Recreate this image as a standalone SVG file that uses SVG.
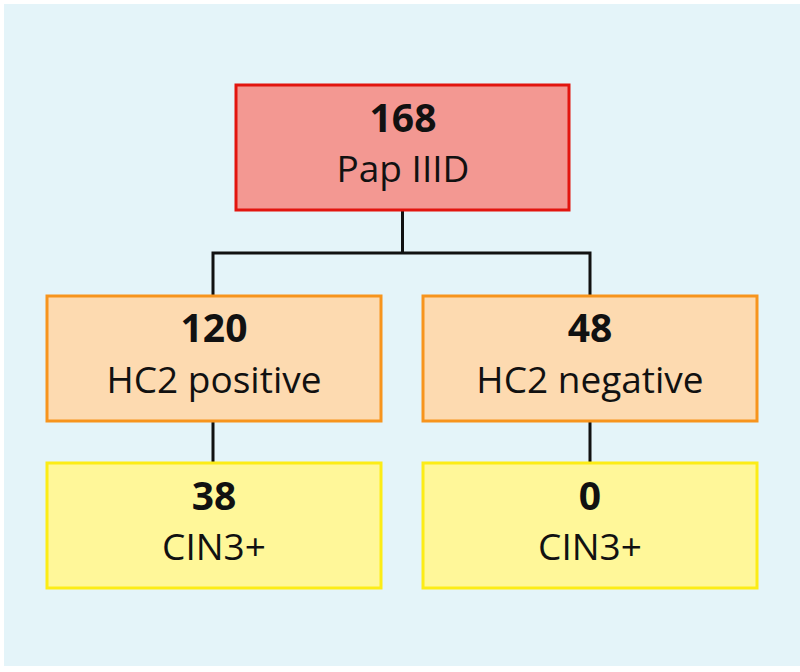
<svg xmlns="http://www.w3.org/2000/svg" width="800" height="672" viewBox="0 0 800 672">
<style>
.num{font-family:"Open Sans","Noto Sans",sans-serif;font-weight:bold;font-size:39px;fill:#111;text-anchor:middle}
.lbl{font-family:"Open Sans","Noto Sans",sans-serif;font-size:37px;fill:#111;text-anchor:middle}
.red{fill:#f39892;stroke:#e2150f;stroke-width:3}
.org{fill:#fddab0;stroke:#f7941d;stroke-width:3}
.yel{fill:#fff799;stroke:#fcec16;stroke-width:3}
.con{fill:none;stroke:#111;stroke-width:3}
</style>
<rect x="4" y="4" width="796" height="662" fill="#e4f4f9"/>
<g id="connectors">
<path class="con" d="M402.5 211 V253 M213 296 V253 H590 V296 M213 422 V463 M590 422 V463"/>
</g>
<g id="n168">
<rect class="red" x="236" y="85" width="333" height="125"/>
<text class="num" x="403" y="132">168</text>
<text class="lbl" x="403" y="182">Pap IIID</text>
</g>
<g id="n120">
<rect class="org" x="47" y="296" width="334" height="125"/>
<text class="num" x="214" y="342">120</text>
<text class="lbl" x="214" y="393">HC2 positive</text>
</g>
<g id="n48">
<rect class="org" x="423" y="296" width="334" height="125"/>
<text class="num" x="590" y="342">48</text>
<text class="lbl" x="590" y="393">HC2 negative</text>
</g>
<g id="n38">
<rect class="yel" x="47" y="463" width="334" height="125"/>
<text class="num" x="214" y="510">38</text>
<text class="lbl" x="214" y="560">CIN3+</text>
</g>
<g id="n0">
<rect class="yel" x="423" y="463" width="334" height="125"/>
<text class="num" x="590" y="510">0</text>
<text class="lbl" x="590" y="560">CIN3+</text>
</g>
</svg>
